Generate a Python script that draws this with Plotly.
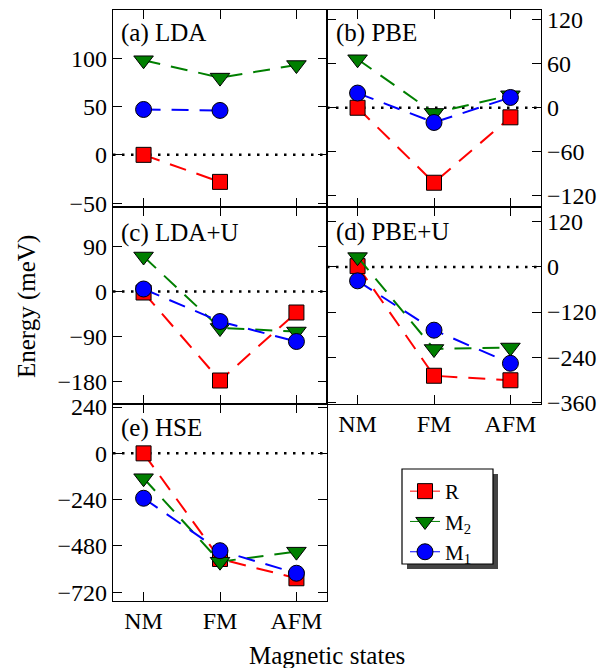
import plotly.graph_objects as go

W, H = 613, 668

states = ["NM", "FM", "AFM"]
series_names = ["R", "M<sub>2</sub>", "M<sub>1</sub>"]

# (a) LDA
lda_R = [0, -28, None]
lda_M2 = [98, 80, 93]
lda_M1 = [47, 46, None]
# (b) PBE
pbe_R = [0, -102, -13]
pbe_M2 = [66, -7, 17]
pbe_M1 = [20, -20, 14]
# (c) LDA+U
ldau_R = [-2, -178, -42]
ldau_M2 = [70, -73, -80]
ldau_M1 = [5, -60, -100]
# (d) PBE+U
pbeu_R = [2, -289, -301]
pbeu_M2 = [26, -218, -214]
pbeu_M1 = [-37, -168, -256]
# (e) HSE
hse_R = [0, -548, -648]
hse_M2 = [-129, -562, -510]
hse_M1 = [-233, -505, -622]

panel_labels = ["(a) LDA", "(b) PBE", "(c) LDA+U", "(d) PBE+U", "(e) HSE"]
ticks_a = [-50, 0, 50, 100]
ticks_b = [-120, -60, 0, 60, 120]
ticks_c = [-180, -90, 0, 90]
ticks_d = [-360, -240, -120, 0, 120]
ticks_e = [-720, -480, -240, 0, 240]

panels = [
    (lda_R, lda_M2, lda_M1),
    (pbe_R, pbe_M2, pbe_M1),
    (ldau_R, ldau_M2, ldau_M1),
    (pbeu_R, pbeu_M2, pbeu_M1),
    (hse_R, hse_M2, hse_M1),
]
yticks = [ticks_a, ticks_b, ticks_c, ticks_d, ticks_e]
yranges = [[-54, 150], [-135, 133], [-225, 169], [-364, 159], [-766, 256]]

colors = ["#FF0000", "#007F00", "#0000FF"]
symbols = ["square", "triangle-down", "circle"]
msizes = [15, 17, 16]
dash = "17px,11px"

FONT = "Liberation Serif, Times New Roman, DejaVu Serif, serif"
TICK = 24
TXT = 25

# panel geometry (pixels)
colx = [(113, 327), (327, 541)]
rowy = [(10, 207), (207, 404), (404, 601)]
pos = [(0, 0), (1, 0), (0, 1), (1, 1), (0, 2)]
label_pos = [(119, 33), (334, 33), (119, 233), (334, 232), (119, 428)]

fig = go.Figure()
layout = {}

for i, (ser, (c, r)) in enumerate(zip(panels, pos)):
    n = "" if i == 0 else str(i + 1)
    xa, ya = "x" + n, "y" + n
    for k in range(3):
        fig.add_trace(go.Scatter(
            x=states, y=ser[k], xaxis=xa, yaxis=ya, mode="lines+markers",
            line=dict(color=colors[k], width=2, dash=dash),
            marker=dict(symbol=symbols[k], size=msizes[k], color=colors[k],
                        line=dict(color="black", width=1)),
            showlegend=False, connectgaps=False, hoverinfo="skip"))
    x0, x1 = colx[c]
    y0, y1 = rowy[r]
    show_xlabels = i in (3, 4)
    layout["xaxis" + n] = dict(
        domain=[x0 / W, x1 / W], anchor=ya, range=[-0.4, 2.4], automargin=False,
        type="category", categoryorder="array", categoryarray=states,
        showline=True, linecolor="black", linewidth=1.4, mirror="ticks",
        ticks="inside", ticklen=9, tickwidth=1.4, tickcolor="black",
        showticklabels=show_xlabels, showgrid=False, zeroline=False,
        tickfont=dict(family=FONT, size=TICK, color="black"),
        ticklabelstandoff=-2)
    layout["yaxis" + n] = dict(
        domain=[1 - y1 / H, 1 - y0 / H], anchor=xa, range=yranges[i], automargin=False,
        side="right" if c == 1 else "left",
        tickmode="array", tickvals=yticks[i],
        showline=True, linecolor="black", linewidth=1.4, mirror="ticks",
        ticks="inside", ticklen=9, tickwidth=1.4, tickcolor="black",
        showgrid=False, zeroline=False,
        tickfont=dict(family=FONT, size=TICK, color="black"),
        ticklabelstandoff=0)
    fig.add_shape(type="line", xref=xa + " domain", yref=ya, x0=0, x1=1, y0=0, y1=0,
                  line=dict(color="black", width=2.5, dash="2.5px,6.5px"), layer="below")
    lx, ly = label_pos[i]
    fig.add_annotation(text=panel_labels[i], xref="paper", yref="paper",
                       x=lx / W, y=1 - ly / H, xanchor="left", yanchor="middle",
                       showarrow=False, font=dict(family=FONT, size=TXT, color="black"))

# legend entries
for k in range(3):
    fig.add_trace(go.Scatter(
        x=[None], y=[None], mode="lines+markers", name=series_names[k],
        line=dict(color=colors[k], width=1),
        marker=dict(symbol=symbols[k], size=msizes[k], color=colors[k],
                    line=dict(color="black", width=1)),
        showlegend=True))

# legend frame with shadow
fig.add_shape(type="rect", xref="paper", yref="paper",
              x0=407 / W, x1=498 / W, y0=1 - 569 / H, y1=1 - 474 / H,
              fillcolor="#444444", line=dict(width=0), layer="above")
fig.add_shape(type="rect", xref="paper", yref="paper",
              x0=402 / W, x1=493 / W, y0=1 - 564 / H, y1=1 - 469 / H,
              fillcolor="white", line=dict(color="black", width=1.2), layer="above")

fig.add_annotation(text="Energy (meV)", xref="paper", yref="paper",
                   x=27 / W, y=1 - 307 / H, textangle=-90, showarrow=False,
                   xanchor="center", yanchor="middle",
                   font=dict(family=FONT, size=TXT, color="black"))
fig.add_annotation(text="Magnetic states", xref="paper", yref="paper",
                   x=327 / W, y=1 - 655 / H, showarrow=False,
                   xanchor="center", yanchor="middle",
                   font=dict(family=FONT, size=TXT, color="black"))

fig.update_layout(
    width=W, height=H, margin=dict(l=0, r=0, t=0, b=0, autoexpand=False),
    paper_bgcolor="white", plot_bgcolor="white",
    font=dict(family=FONT, size=TICK, color="black"),
    showlegend=True,
    legend=dict(x=405 / W, y=1 - 471 / H, xanchor="left", yanchor="top",
                bgcolor="rgba(0,0,0,0)", borderwidth=0,
                font=dict(family=FONT, size=21, color="black"),
                itemsizing="trace", tracegroupgap=0),
    **layout)

fig.write_html("out.html", config={"displayModeBar": False},
               post_script="document.body.style.margin='0';")
